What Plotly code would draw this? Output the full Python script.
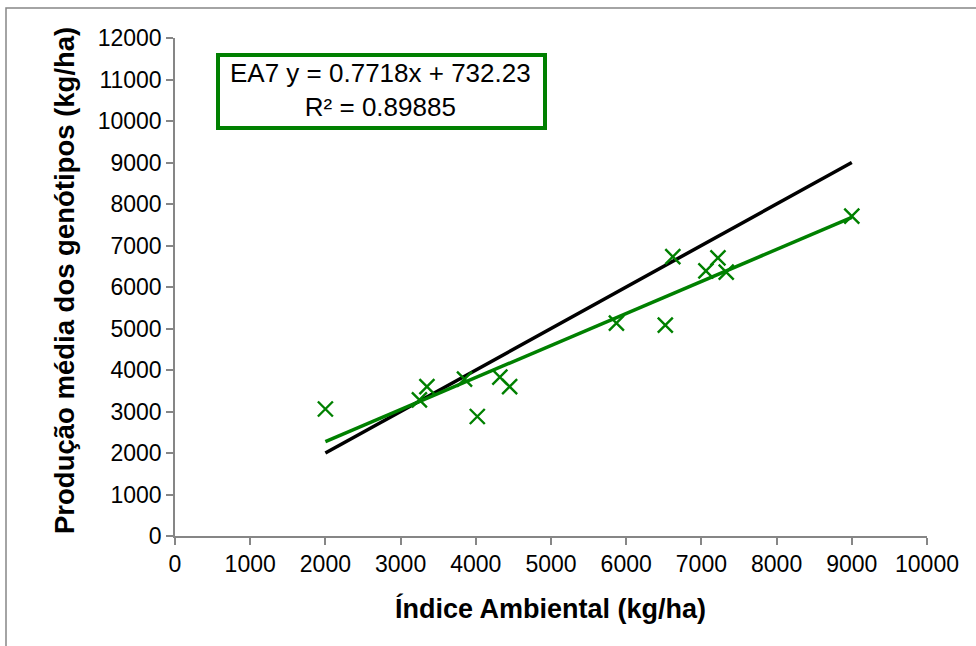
import plotly.graph_objects as go

# Data
indice_ambiental = [2000, 3250, 3350, 3850, 4020, 4320, 4450, 5870, 6520, 6620, 7060, 7220, 7330, 9000]
producao_ea7 = [3060, 3280, 3600, 3780, 2880, 3830, 3600, 5130, 5080, 6730, 6390, 6700, 6360, 7710]
slope = 0.7718
intercept = 732.23
r2 = 0.89885
x_ticks = list(range(0, 10001, 1000))
y_ticks = list(range(0, 12001, 1000))

W, H = 976, 646
ML, MR, MT, MB = 175, 49, 38, 110
PW, PH = W - ML - MR, H - MT - MB

def px(x):
    return (x - ML) / PW

def py(y):
    return (H - MB - y) / PH

GREEN = "rgb(0,128,0)"
FONT = "Liberation Sans, Arial, sans-serif"

xmin, xmax = min(indice_ambiental), max(indice_ambiental)
line_x = [xmin, xmax]
trend_y = [slope * v + intercept for v in line_x]

fig = go.Figure()
# 1:1 reference line
fig.add_trace(go.Scatter(x=line_x, y=line_x, mode="lines",
                         line=dict(color="black", width=3.5), showlegend=False,
                         hoverinfo="skip"))
# Linear trend line
fig.add_trace(go.Scatter(x=line_x, y=trend_y, mode="lines",
                         line=dict(color=GREEN, width=3.5), showlegend=False,
                         hoverinfo="skip"))
# Data points
fig.add_trace(go.Scatter(x=indice_ambiental, y=producao_ea7, mode="markers",
                         marker=dict(symbol="x-thin", size=15,
                                     line=dict(color=GREEN, width=2.4)),
                         showlegend=False, name="EA7"))

axis_common = dict(showgrid=False, zeroline=False, showline=True,
                   linecolor="#868686", linewidth=1.5, ticks="outside",
                   ticklen=7, tickwidth=1.5, tickcolor="#868686",
                   tickfont=dict(family=FONT, size=23, color="black"))

fig.update_xaxes(range=[0, 10000], tickvals=x_ticks,
                 ticktext=[str(v) for v in x_ticks], **axis_common)
fig.update_yaxes(range=[0, 12000], tickvals=y_ticks,
                 ticktext=[str(v) for v in y_ticks], **axis_common)

shapes = [
    # outer chart border (partially outside the window)
    dict(type="rect", xref="paper", yref="paper",
         x0=px(6), x1=px(990), y0=py(660), y1=py(8),
         line=dict(color="#868686", width=1.5), fillcolor="rgba(0,0,0,0)", layer="below"),
    # equation box
    dict(type="rect", xref="paper", yref="paper",
         x0=px(218), x1=px(545), y0=py(128), y1=py(55),
         line=dict(color=GREEN, width=4), fillcolor="white", layer="above"),
]

annotations = [
    dict(xref="paper", yref="paper", x=px(380), y=py(90),
         text="EA7 y = %.4fx + %.2f<br>R² = %.5f" % (slope, intercept, r2),
         showarrow=False, align="center",
         xanchor="center", yanchor="middle",
         font=dict(family=FONT, size=26, color="black")),
    dict(xref="paper", yref="paper", x=px(550), y=py(608),
         text="<b>Índice Ambiental (kg/ha)</b>", showarrow=False,
         xanchor="center", yanchor="middle",
         font=dict(family=FONT, size=27, color="black")),
    dict(xref="paper", yref="paper", x=px(64), y=py(281),
         text="<b>Produção média dos genótipos (kg/ha)</b>", showarrow=False,
         textangle=-90, xanchor="center", yanchor="middle",
         font=dict(family=FONT, size=27.5, color="black")),
]

fig.update_layout(width=W, height=H,
                  margin=dict(l=ML, r=MR, t=MT, b=MB, autoexpand=False),
                  paper_bgcolor="white", plot_bgcolor="white",
                  shapes=shapes, annotations=annotations,
                  font=dict(family=FONT, color="black"))

fig.write_html("out.html")
